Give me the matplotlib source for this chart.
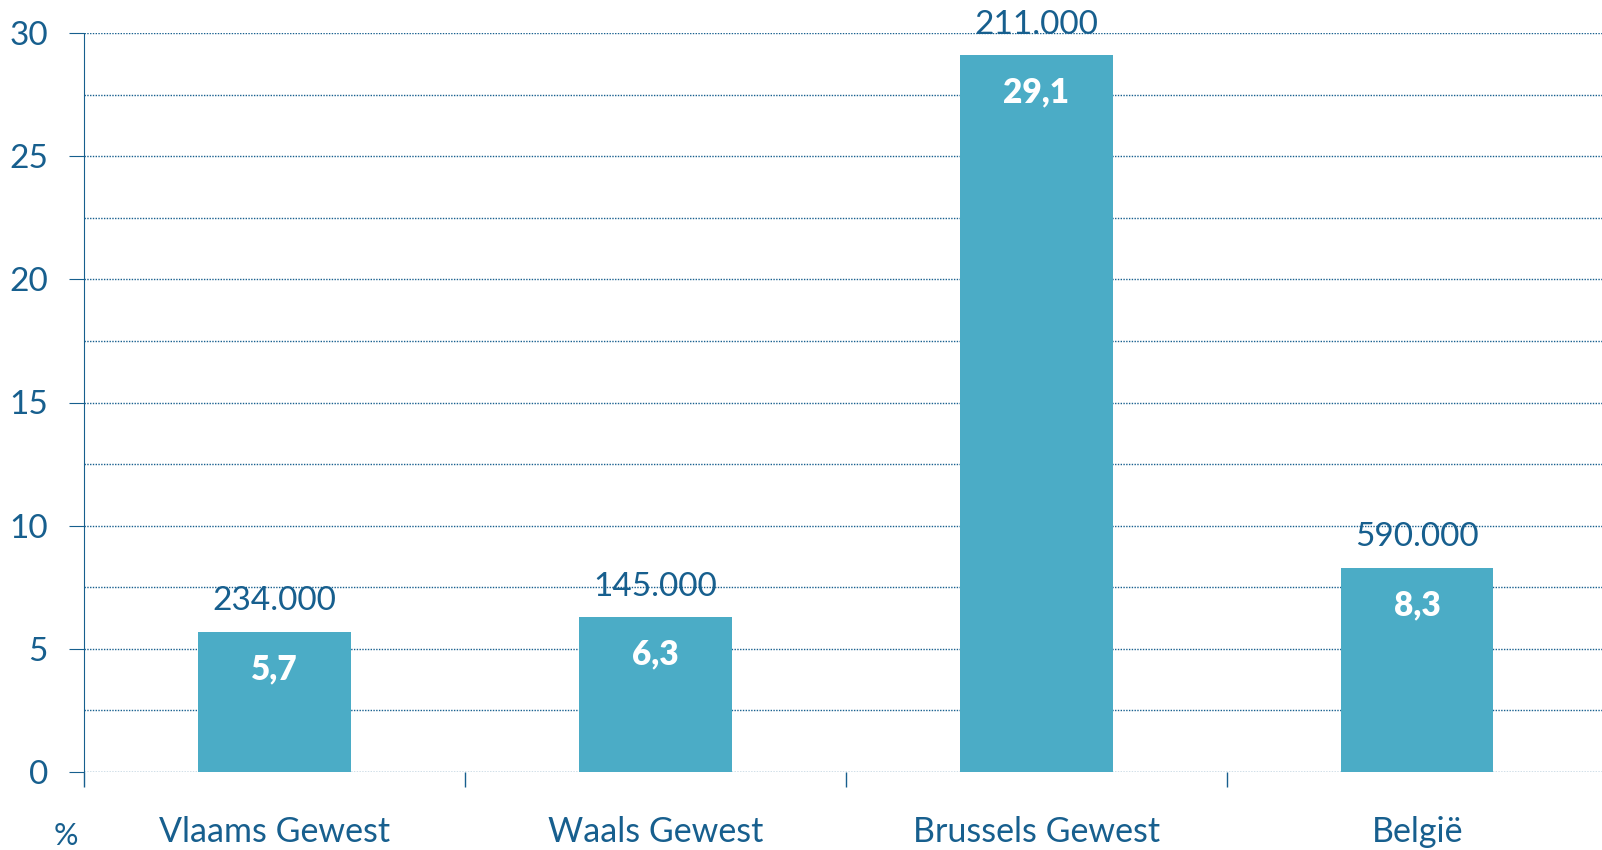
import numpy as np
import matplotlib.pyplot as plt

plt.rcParams['font.family'] = ['Lato', 'DejaVu Sans']

# gegevens
regio = ['Vlaams Gewest', 'Waals Gewest', 'Brussels Gewest', 'België']
pct = [5.7, 6.3, 29.1, 8.3]
aantal = ['234.000', '145.000', '211.000', '590.000']

blauw = '#175f8e'
balk = '#4bacc6'

fig = plt.figure(figsize=(16.02, 8.5), dpi=100)
ax = fig.add_axes([84/1602, 1-772/850, 1-84/1602, (772-33)/850])

x = np.arange(len(regio))
ax.bar(x, pct, width=0.40, color=balk, zorder=3)

for i in range(len(regio)):
    ax.annotate(aantal[i], (x[i], pct[i]), xytext=(0, 11), textcoords='offset points',
                ha='center', va='bottom', fontsize=24, color=blauw, zorder=4)
    ax.annotate(f'{pct[i]:.1f}'.replace('.', ','), (x[i], pct[i]), xytext=(0, -27),
                textcoords='offset points', ha='center', va='center', fontsize=24,
                color='white', fontweight='heavy', zorder=4)

ax.set_xlim(-0.5, 3.485)
ax.set_ylim(0, 30)
ax.set_yticks(np.arange(0, 31, 5))
ax.set_yticks(np.arange(0, 30.1, 2.5), minor=True)
ax.grid(axis='y', which='both', color=blauw, linestyle=(0, (1, 1)), linewidth=1.0, zorder=0)

ax.set_xticks(x)
ax.set_xticklabels(regio)
ax.set_xticks(np.arange(-0.5, 3.4, 1), minor=True)
ax.tick_params(axis='x', which='major', length=0, pad=32, labelsize=24.5, labelcolor=blauw)
ax.tick_params(axis='x', which='minor', length=11, color=blauw, width=1)
ax.tick_params(axis='y', which='major', length=11, color=blauw, pad=15, labelsize=24, labelcolor=blauw)
ax.tick_params(axis='y', which='minor', length=0)

for s in ['top', 'right', 'bottom']:
    ax.spines[s].set_visible(False)
ax.spines['left'].set_linestyle((0, (1, 1)))
ax.spines['left'].set_color(blauw)

fig.text(66/1602, 1-836/850, '%', fontsize=22, color=blauw, ha='center', va='center')

fig.savefig('out.png', dpi=100)
